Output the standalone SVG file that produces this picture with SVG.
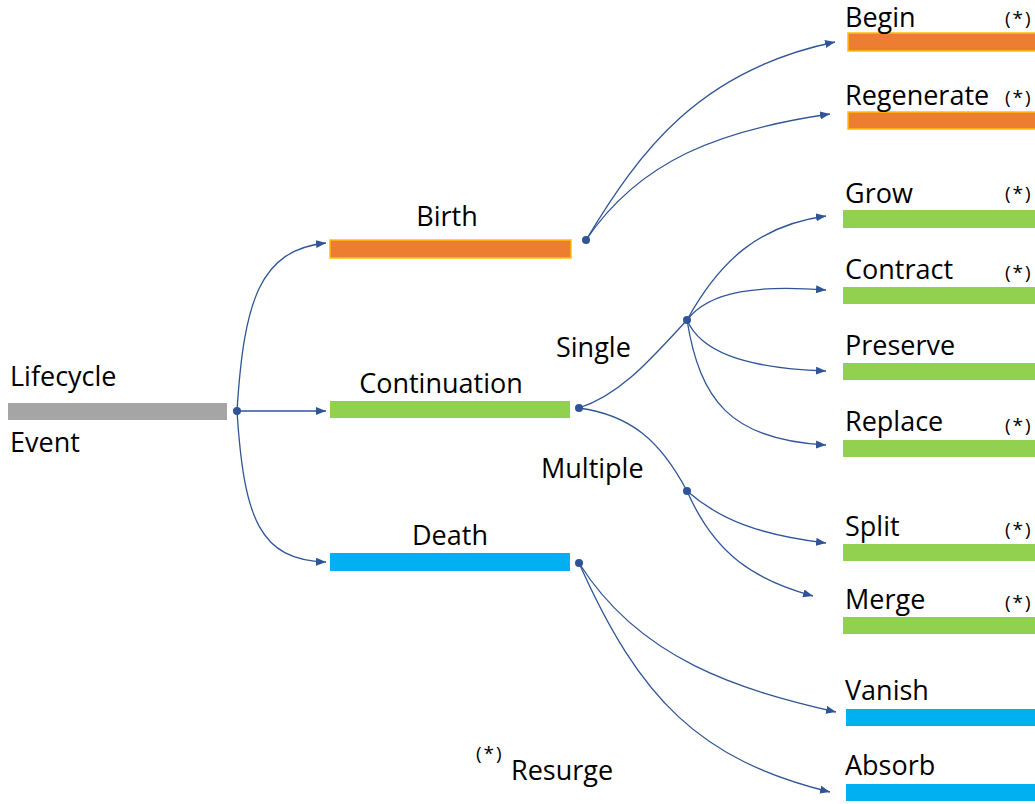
<svg xmlns="http://www.w3.org/2000/svg" width="1035" height="804" viewBox="0 0 1035 804">
<style>
text{font-family:"Open Sans","Liberation Sans",Arial,sans-serif;fill:#000;}
.lbl{font-size:27px;}
.ast{font-size:19px;letter-spacing:2px;}
.gray{fill:#A5A5A5;}
.orange{fill:#ED7D31;stroke:#FFC000;stroke-width:1.5;}
.green{fill:#92D050;}
.blue{fill:#00B0F0;}
.c{fill:none;stroke:#2F5597;stroke-width:1.3;}
.dot{fill:#2F5597;}
</style>
<defs>
<marker id="ah" viewBox="0 0 10 8" refX="10" refY="4" markerWidth="10" markerHeight="8" markerUnits="userSpaceOnUse" orient="auto">
<path d="M0,0 L10,4 L0,8 Z" fill="#2F5597"/>
</marker>
</defs>
<g id="connectors">
<path class="c" d="M237,411 C244,300 260,250 326,243" marker-end="url(#ah)"/>
<path class="c" d="M237,411 L326,411" marker-end="url(#ah)"/>
<path class="c" d="M237,411 C244,520 260,560 326,562" marker-end="url(#ah)"/>
<path class="c" d="M586,240 C640,150 700,70 835,42" marker-end="url(#ah)"/>
<path class="c" d="M586,240 C640,160 720,130 830,114" marker-end="url(#ah)"/>
<path class="c" d="M579,408 C620,395 650,360 687,320"/>
<path class="c" d="M579,408 C630,415 660,440 687,491"/>
<path class="c" d="M687,320 C720,260 760,225 826,216" marker-end="url(#ah)"/>
<path class="c" d="M687,320 C710,290 760,285 826,290" marker-end="url(#ah)"/>
<path class="c" d="M687,320 C700,350 740,368 826,371" marker-end="url(#ah)"/>
<path class="c" d="M687,320 C700,400 730,440 826,445" marker-end="url(#ah)"/>
<path class="c" d="M687,491 C720,520 760,535 826,543" marker-end="url(#ah)"/>
<path class="c" d="M687,491 C715,555 755,580 813,596" marker-end="url(#ah)"/>
<path class="c" d="M579,563 C640,660 740,690 836,712" marker-end="url(#ah)"/>
<path class="c" d="M579,563 C640,700 700,760 830,792" marker-end="url(#ah)"/>
<circle class="dot" cx="237" cy="411" r="4"/>
<circle class="dot" cx="586" cy="240" r="4"/>
<circle class="dot" cx="579" cy="408" r="4"/>
<circle class="dot" cx="687" cy="320" r="4"/>
<circle class="dot" cx="687" cy="491" r="4"/>
<circle class="dot" cx="579" cy="563" r="4"/>
</g>
<g id="lifecycle">
<rect class="gray" x="8" y="403" width="219" height="17"/>
<text class="lbl" x="10" y="386">Lifecycle</text>
<text class="lbl" x="10" y="452">Event</text>
</g>
<g id="birth">
<rect class="orange" x="330" y="240" width="241" height="18"/>
<text class="lbl" x="447" y="226" text-anchor="middle">Birth</text>
</g>
<g id="continuation">
<rect class="green" x="330" y="401" width="240" height="17"/>
<text class="lbl" x="441" y="393" text-anchor="middle">Continuation</text>
</g>
<g id="death">
<rect class="blue" x="330" y="553" width="240" height="18"/>
<text class="lbl" x="450" y="545" text-anchor="middle">Death</text>
</g>
<g id="single"><text class="lbl" x="556" y="357">Single</text></g>
<g id="multiple"><text class="lbl" x="541" y="478">Multiple</text></g>
<g id="begin">
<rect class="orange" x="848" y="33" width="190" height="18"/>
<text class="lbl" x="845" y="27">Begin</text>
<text class="ast" x="1005" y="25">(*)</text>
</g>
<g id="regenerate">
<rect class="orange" x="848" y="112" width="190" height="17"/>
<text class="lbl" x="845" y="105">Regenerate</text>
<text class="ast" x="1005" y="104">(*)</text>
</g>
<g id="grow">
<rect class="green" x="843" y="210" width="192" height="18"/>
<text class="lbl" x="845" y="203">Grow</text>
<text class="ast" x="1005" y="200">(*)</text>
</g>
<g id="contract">
<rect class="green" x="843" y="287" width="192" height="17"/>
<text class="lbl" x="845" y="279">Contract</text>
<text class="ast" x="1005" y="279">(*)</text>
</g>
<g id="preserve">
<rect class="green" x="843" y="363" width="192" height="17"/>
<text class="lbl" x="845" y="355">Preserve</text>
</g>
<g id="replace">
<rect class="green" x="843" y="440" width="192" height="17"/>
<text class="lbl" x="845" y="431">Replace</text>
<text class="ast" x="1005" y="432">(*)</text>
</g>
<g id="split">
<rect class="green" x="843" y="544" width="192" height="17"/>
<text class="lbl" x="845" y="536">Split</text>
<text class="ast" x="1005" y="536">(*)</text>
</g>
<g id="merge">
<rect class="green" x="843" y="617" width="192" height="17"/>
<text class="lbl" x="845" y="609">Merge</text>
<text class="ast" x="1005" y="609">(*)</text>
</g>
<g id="vanish">
<rect class="blue" x="846" y="709" width="189" height="17"/>
<text class="lbl" x="845" y="700">Vanish</text>
</g>
<g id="absorb">
<rect class="blue" x="846" y="784" width="189" height="17"/>
<text class="lbl" x="845" y="775">Absorb</text>
</g>
<g id="legend">
<text class="ast" x="476" y="760">(*)</text>
<text class="lbl" x="511" y="780">Resurge</text>
</g>
</svg>
